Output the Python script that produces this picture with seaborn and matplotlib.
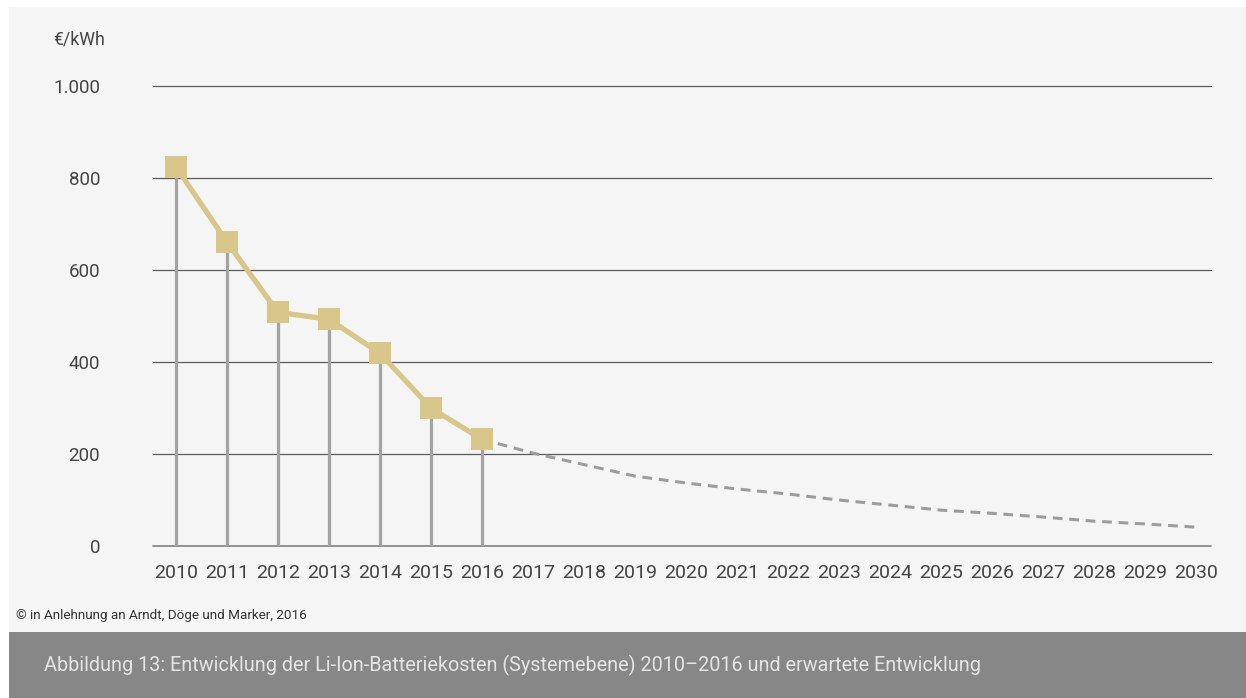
import matplotlib
matplotlib.use("Agg")
import matplotlib.pyplot as plt
import seaborn as sns
import pandas as pd
from matplotlib.patches import Rectangle

# Measured system-level Li-ion battery costs (EUR/kWh)
years_actual = [2010, 2011, 2012, 2013, 2014, 2015, 2016]
cost_actual = [824, 661, 508, 493, 419, 300, 232]

# Expected development
years_forecast = [2016, 2017, 2018, 2019, 2020, 2021, 2022, 2023,
                  2024, 2025, 2026, 2027, 2028, 2029, 2030]
cost_forecast = [232, 202, 177, 152, 137, 124, 113, 100,
                 89, 78, 71, 63, 54, 48, 41]

x_ticks = list(range(2010, 2031))
y_ticks = [0, 200, 400, 600, 800, 1000]
y_tick_labels = ["0", "200", "400", "600", "800", "1.000"]

unit_label = "€/kWh"
source_note = "© in Anlehnung an Arndt, Döge und Marker, 2016"
caption = ("Abbildung 13: Entwicklung der Li-Ion-Batteriekosten (Systemebene) "
           "2010–2016 und erwartete Entwicklung")

df_actual = pd.DataFrame({"Jahr": years_actual, "Kosten": cost_actual})
df_forecast = pd.DataFrame({"Jahr": years_forecast, "Kosten": cost_forecast})

sns.set_theme(style="white")
plt.rcParams["font.family"] = ["Roboto", "DejaVu Sans"]

W, H = 1246, 698
fig = plt.figure(figsize=(W / 100, H / 100), dpi=100)
fig.patch.set_facecolor("white")

# background panel and caption band
fig.add_artist(Rectangle((9 / W, 1 - 632 / H), 1 - 9 / W, (632 - 7) / H,
                         transform=fig.transFigure, facecolor="#f5f5f5",
                         edgecolor="none", zorder=0))
fig.add_artist(Rectangle((9 / W, 0), 1 - 9 / W, (698 - 632) / H,
                         transform=fig.transFigure, facecolor="#878787",
                         edgecolor="none", zorder=0))

ax = fig.add_axes([153 / W, 1 - 546 / H, (1211 - 153) / W, (546 - 86) / H])
ax.set_facecolor("none")

ax.set_xlim(2009.55, 2030.3)
ax.set_ylim(0, 1000)

# horizontal gridlines
for yv in y_ticks[1:]:
    ax.axhline(yv, color="#5a5a5a", linewidth=0.9, zorder=1)
ax.axhline(0, color="#8a8a8a", linewidth=1.3, zorder=1)

# vertical stems from the baseline to each measured value
ax.vlines(df_actual["Jahr"], 0, df_actual["Kosten"], color="#a3a3a3",
          linewidth=2.3, zorder=2)

# expected development (dashed)
sns.lineplot(data=df_forecast, x="Jahr", y="Kosten", ax=ax, color="#9c9c9c",
             linewidth=2.2, zorder=3)
ax.lines[-1].set_dashes((3.2, 2.2))

# measured series
sns.lineplot(data=df_actual, x="Jahr", y="Kosten", ax=ax, color="#d8c68a",
             linewidth=3.8, marker="s", markersize=16.5, markeredgewidth=0,
             markerfacecolor="#d8c68a", zorder=4)
for ln in ax.lines:
    ln.set_clip_on(False)

ax.set_xticks(x_ticks)
ax.set_xticklabels([str(y) for y in x_ticks], fontsize=14, color="#444444")
ax.set_yticks(y_ticks)
ax.set_yticklabels(y_tick_labels, fontsize=13.5, color="#444444")
ax.tick_params(axis="x", length=0, pad=13)
ax.tick_params(axis="y", length=0, pad=38)
ax.set_xlabel("")
ax.set_ylabel("")
for sp in ax.spines.values():
    sp.set_visible(False)

fig.text(53 / W, 1 - 39 / H, unit_label, fontsize=12.8, color="#444444",
         ha="left", va="center")
fig.text(16 / W, 1 - 616 / H, source_note, fontsize=9.7, color="#333333",
         ha="left", va="center")
fig.text(44 / W, 1 - 665 / H, caption, fontsize=14.3, color="#e4e4e4",
         ha="left", va="center")

fig.savefig("out.png", dpi=100, facecolor=fig.get_facecolor())
